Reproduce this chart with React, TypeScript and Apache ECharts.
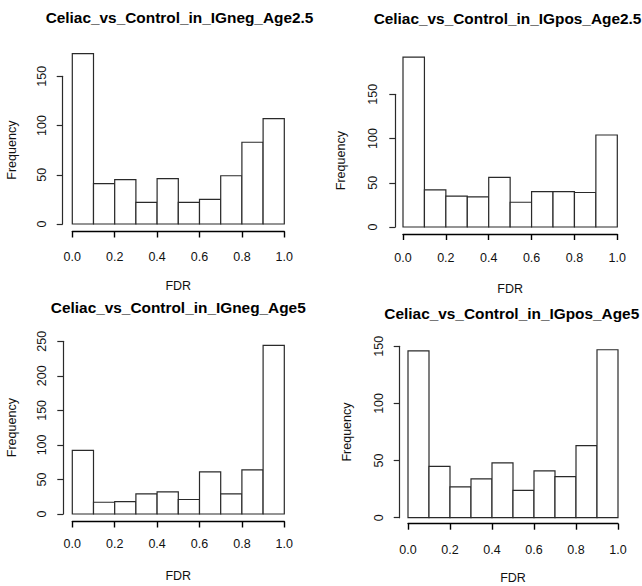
import React, { useEffect, useRef } from "react";
import * as echarts from "echarts";

// Histogram bin edges shared by all four panels (FDR in [0, 1], width 0.1)
const binEdges = [0, 0.1, 0.2, 0.3, 0.4, 0.5, 0.6, 0.7, 0.8, 0.9, 1.0];

// Frequency per bin
const negAge25 = [173, 41, 45, 22, 46, 22, 25, 49, 83, 107];
const posAge25 = [192, 42, 35, 34, 56, 28, 40, 40, 39, 104];
const negAge5 = [92, 17, 18, 29, 32, 21, 61, 29, 64, 244];
const posAge5 = [146, 45, 27, 34, 48, 24, 41, 36, 63, 147];

const panelTitles = [
  "Celiac_vs_Control_in_IGneg_Age2.5",
  "Celiac_vs_Control_in_IGpos_Age2.5",
  "Celiac_vs_Control_in_IGneg_Age5",
  "Celiac_vs_Control_in_IGpos_Age5",
];
const panelCounts = [negAge25, posAge25, negAge5, posAge5];
const yMaxTicks = [150, 150, 250, 150];

// Plot-region geometry of each panel (px)
const layout = [
  { left: 72.3, top: 76.3, width: 212, height: 147.7, yOff: 9.6, xOff: 7.5, xMargin: 18.5, yMargin: 14.7, xGap: 47.7, yGap: 44.5, tx: 179.5, ty: 17.5 },
  { left: 403, top: 94.3, width: 214.3, height: 132.7, yOff: 7.7, xOff: 7, xMargin: 17.5, yMargin: 16.3, xGap: 48, yGap: 48, tx: 507.5, ty: 18.5 },
  { left: 72.3, top: 341.3, width: 212, height: 172.7, yOff: 9, xOff: 7.5, xMargin: 15.5, yMargin: 14.7, xGap: 47.8, yGap: 45.3, tx: 178.3, ty: 307 },
  { left: 408, top: 346.3, width: 210, height: 171.4, yOff: 8.3, xOff: 6, xMargin: 19.3, yMargin: 13.8, xGap: 48, yGap: 45.8, tx: 511.8, ty: 313.5 },
];

const FONT = "'Liberation Sans', Arial, Helvetica, sans-serif";
const INK = "#111";
const LINE = "#2a2a2a";
const LW = 1.2;

function buildOption() {
  const grid: any[] = [];
  const xAxis: any[] = [];
  const yAxis: any[] = [];
  const series: any[] = [];
  const graphic: any[] = [];

  layout.forEach((g, i) => {
    grid.push({ left: g.left, top: g.top, width: g.width, height: g.height, containLabel: false });
    xAxis.push({
      type: "value",
      gridIndex: i,
      position: "bottom",
      min: 0,
      max: 1,
      interval: 0.2,
      offset: g.xOff,
      name: "FDR",
      nameLocation: "middle",
      nameGap: g.xGap,
      nameTextStyle: { fontFamily: FONT, fontSize: 12.5, color: INK },
      axisLine: { show: true, onZero: false, lineStyle: { color: "#000", width: 1.4 } },
      axisTick: { show: true, length: 6, inside: false, lineStyle: { color: "#000", width: 1.4 } },
      axisLabel: {
        show: true,
        margin: g.xMargin,
        fontFamily: FONT,
        fontSize: 12.5,
        color: INK,
        formatter: (v: number) => v.toFixed(1),
      },
      splitLine: { show: false },
    });
    yAxis.push({
      type: "value",
      gridIndex: i,
      position: "left",
      min: 0,
      max: yMaxTicks[i],
      interval: 50,
      offset: g.yOff,
      name: "Frequency",
      nameLocation: "middle",
      nameGap: g.yGap,
      nameRotate: 90,
      nameTextStyle: { fontFamily: FONT, fontSize: 12.5, color: INK },
      axisLine: { show: true, onZero: false, lineStyle: { color: LINE, width: LW } },
      axisTick: { show: true, length: 6, inside: false, lineStyle: { color: LINE, width: LW } },
      axisLabel: {
        show: true,
        rotate: 90,
        margin: g.yMargin,
        fontFamily: FONT,
        fontSize: 12.5,
        color: INK,
      },
      splitLine: { show: false },
    });

    const data = panelCounts[i].map((c, k) => [binEdges[k], binEdges[k + 1], c]);
    series.push({
      type: "custom",
      xAxisIndex: i,
      yAxisIndex: i,
      clip: false,
      data,
      encode: { x: [0, 1], y: 2 },
      renderItem: (_params: any, api: any) => {
        const p0 = api.coord([api.value(0), 0]);
        const p1 = api.coord([api.value(1), api.value(2)]);
        return {
          type: "rect",
          shape: { x: p0[0], y: p1[1], width: p1[0] - p0[0], height: p0[1] - p1[1] },
          style: { fill: "#fff", stroke: LINE, lineWidth: LW },
        };
      },
    });

    graphic.push({
      type: "text",
      x: g.tx,
      y: g.ty,
      style: {
        text: panelTitles[i],
        fontFamily: FONT,
        fontWeight: "bold",
        fontSize: 15.4,
        fill: "#000",
        textAlign: "center",
        textVerticalAlign: "middle",
      },
    });
  });

  return {
    animation: false,
    backgroundColor: "#fff",
    grid,
    xAxis,
    yAxis,
    series,
    graphic,
  };
}

export default function App() {
  const ref = useRef<HTMLDivElement>(null);

  useEffect(() => {
    if (!ref.current) return;
    const chart = echarts.init(ref.current, undefined, { renderer: "svg" });
    chart.setOption(buildOption() as any);
    return () => chart.dispose();
  }, []);

  return (
    <div
      ref={ref}
      style={{ position: "fixed", left: 0, top: 0, width: 642, height: 586, background: "#fff" }}
    />
  );
}
